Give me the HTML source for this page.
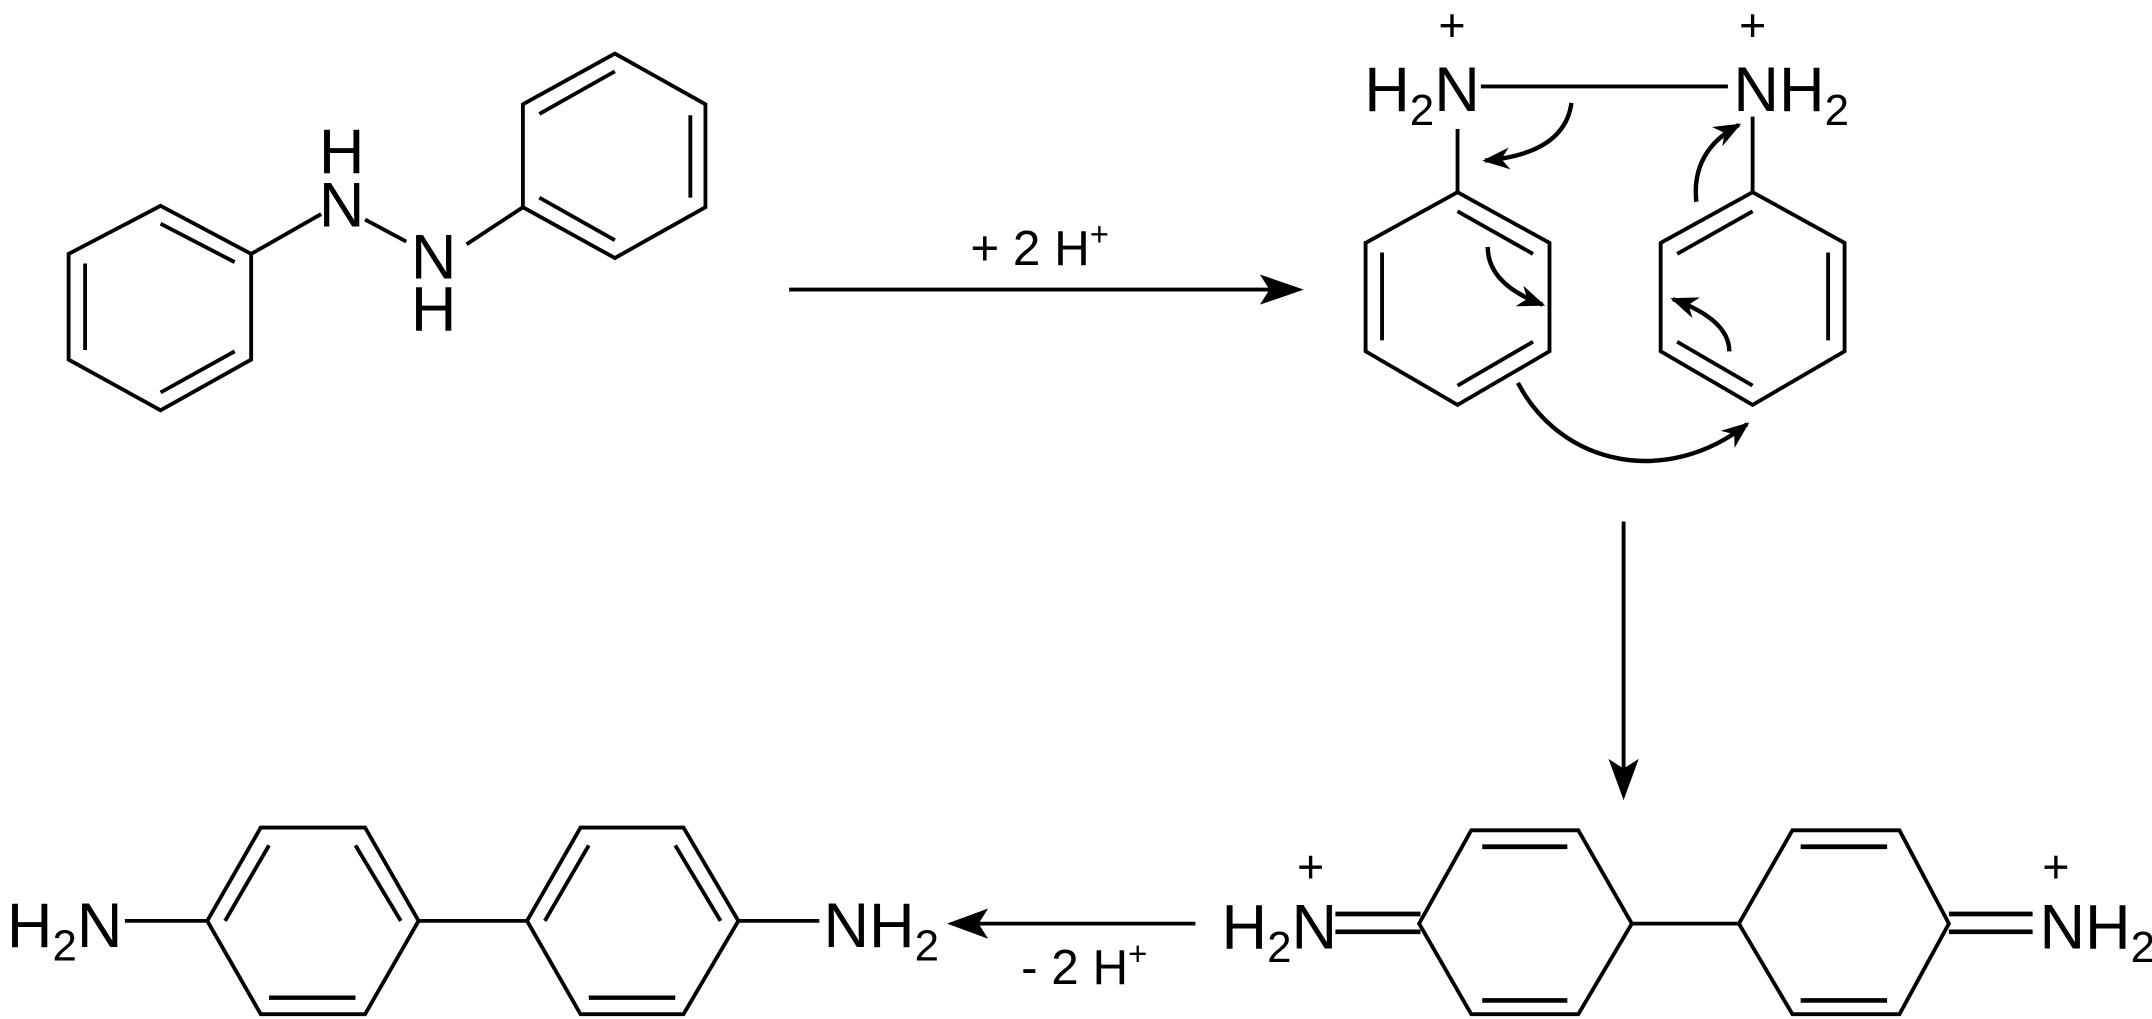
<!DOCTYPE html>
<html><head><meta charset="utf-8"><style>
html,body{margin:0;padding:0;background:#fff;}
svg{display:block;}
text{font-family:"Liberation Sans",Arial,sans-serif;fill:#000;}
</style></head><body>
<svg width="2152" height="1019" viewBox="0 0 1568 742.5" preserveAspectRatio="none" xmlns="http://www.w3.org/2000/svg">
<defs>
<marker id="ah" viewBox="0 0 10 8" refX="9" refY="4" markerWidth="20" markerHeight="16" markerUnits="userSpaceOnUse" orient="auto">
<path d="M0,0 L10,4 L0,8 L3,4 z" fill="#000"/>
</marker>
</defs>
<g stroke="#000" stroke-width="2.8" fill="none" stroke-linejoin="miter">
<polygon points="117,150 183,185 183,262 117,299 50,262 50,185"/>
<line x1="117" y1="163" x2="171" y2="191"/>
<line x1="62" y1="192" x2="62" y2="255"/>
<line x1="117" y1="286" x2="171" y2="256"/>
<line x1="183" y1="185" x2="234" y2="156"/>
<line x1="266" y1="160" x2="296" y2="176"/>
<line x1="340" y1="178" x2="381" y2="151"/>
<polygon points="448,39 514,76 514,151 448,188 381,151 381,76"/>
<line x1="448" y1="52" x2="393" y2="83"/>
<line x1="503" y1="84" x2="503" y2="144"/>
<line x1="448" y1="175" x2="393" y2="144"/>

<line x1="575" y1="211" x2="930" y2="211"/>

<line x1="1079" y1="63" x2="1259" y2="63"/>
<line x1="1062" y1="140" x2="1062" y2="94"/>
<line x1="1277" y1="140" x2="1277" y2="85"/>
<polygon points="1062,140 1129,177 1129,256 1062,295 995,256 995,177"/>
<line x1="1062" y1="154" x2="1117" y2="185"/>
<line x1="1007" y1="184" x2="1007" y2="248"/>
<line x1="1062" y1="281" x2="1117" y2="249"/>
<polygon points="1277,140 1344,177 1344,256 1277,295 1210,256 1210,177"/>
<line x1="1277" y1="154" x2="1222" y2="185"/>
<line x1="1332" y1="184" x2="1332" y2="248"/>
<line x1="1277" y1="281" x2="1222" y2="249"/>
<path d="M1145,75 Q1140,112 1082,117" marker-end="url(#ah)" stroke-width="3.2"/>
<path d="M1236,147 Q1232,110 1267,91" marker-end="url(#ah)" stroke-width="3.2"/>
<path d="M1084,180 Q1084,207 1124,222" marker-end="url(#ah)" stroke-width="3.2"/>
<path d="M1260,256 Q1260,233 1219,218" marker-end="url(#ah)" stroke-width="3.2"/>
<path d="M1106,279 C1138,340 1215,355 1273,309" marker-end="url(#ah)" stroke-width="3.2"/>

<line x1="1183" y1="380" x2="1183" y2="566"/>

<polygon points="1072,605 1150,605 1189,673 1150,739 1072,739 1034,673"/>
<line x1="1080" y1="617" x2="1142" y2="617" stroke-width="3.4"/>
<line x1="1080" y1="729" x2="1142" y2="729" stroke-width="3.4"/>
<polygon points="1306,605 1384,605 1420,673 1384,739 1306,739 1267,673"/>
<line x1="1312" y1="617" x2="1375" y2="617" stroke-width="3.4"/>
<line x1="1312" y1="729" x2="1375" y2="729" stroke-width="3.4"/>
<line x1="1189" y1="673" x2="1267" y2="673"/>
<line x1="973" y1="666" x2="1035" y2="666" stroke-width="3.4"/>
<line x1="973" y1="679" x2="1035" y2="679" stroke-width="3.4"/>
<line x1="1420" y1="666" x2="1481" y2="666" stroke-width="3.4"/>
<line x1="1420" y1="679" x2="1481" y2="679" stroke-width="3.4"/>

<line x1="871" y1="673" x2="706" y2="673"/>

<polygon points="190,603 266,603 305,671 266,739 190,739 151,671"/>
<line x1="196" y1="616" x2="164" y2="671"/>
<line x1="259" y1="616" x2="292" y2="671"/>
<line x1="196" y1="727" x2="259" y2="727" stroke-width="3.2"/>
<polygon points="423,603 498,603 538,671 498,739 423,739 384,671"/>
<line x1="429" y1="616" x2="397" y2="671"/>
<line x1="492" y1="616" x2="525" y2="671"/>
<line x1="429" y1="727" x2="492" y2="727" stroke-width="3.2"/>
<line x1="91" y1="671" x2="151" y2="671"/>
<line x1="305" y1="671" x2="384" y2="671"/>
<line x1="538" y1="671" x2="597" y2="671"/>
</g>
<g fill="#000">
<polygon points="950,211 918,200 925,211 918,222"/>
<polygon points="1183,583 1172,553 1183,560 1194,553"/>
<polygon points="690,673 720,662 713,673 720,684"/>
</g>
<g font-size="46">
<text x="249" y="126" text-anchor="middle">H</text>
<text x="249" y="165" text-anchor="middle">N</text>
<text x="316" y="203" text-anchor="middle">N</text>
<text x="316" y="241" text-anchor="middle">H</text>

<text x="994" y="81">H<tspan font-size="32" dy="10">2</tspan><tspan dy="-10">N</tspan></text>
<text x="1263" y="81">NH<tspan font-size="32" dy="10">2</tspan></text>
<text x="1058" y="30" font-size="34" text-anchor="middle">+</text>
<text x="1277" y="30" font-size="34" text-anchor="middle">+</text>

<text x="890" y="691">H<tspan font-size="32" dy="10">2</tspan><tspan dy="-10">N</tspan></text>
<text x="1486" y="691">NH<tspan font-size="32" dy="10">2</tspan></text>
<text x="955" y="643" font-size="34" text-anchor="middle">+</text>
<text x="1498" y="643" font-size="34" text-anchor="middle">+</text>

<text x="5" y="690">H<tspan font-size="32" dy="10">2</tspan><tspan dy="-10">N</tspan></text>
<text x="600" y="690">NH<tspan font-size="32" dy="10">2</tspan></text>
</g>
<text x="707" y="193" font-size="36">+ 2 H<tspan font-size="24" dy="-14">+</tspan></text>
<text x="744" y="717" font-size="36">- 2 H<tspan font-size="24" dy="-14">+</tspan></text>
</svg>
</body></html>
